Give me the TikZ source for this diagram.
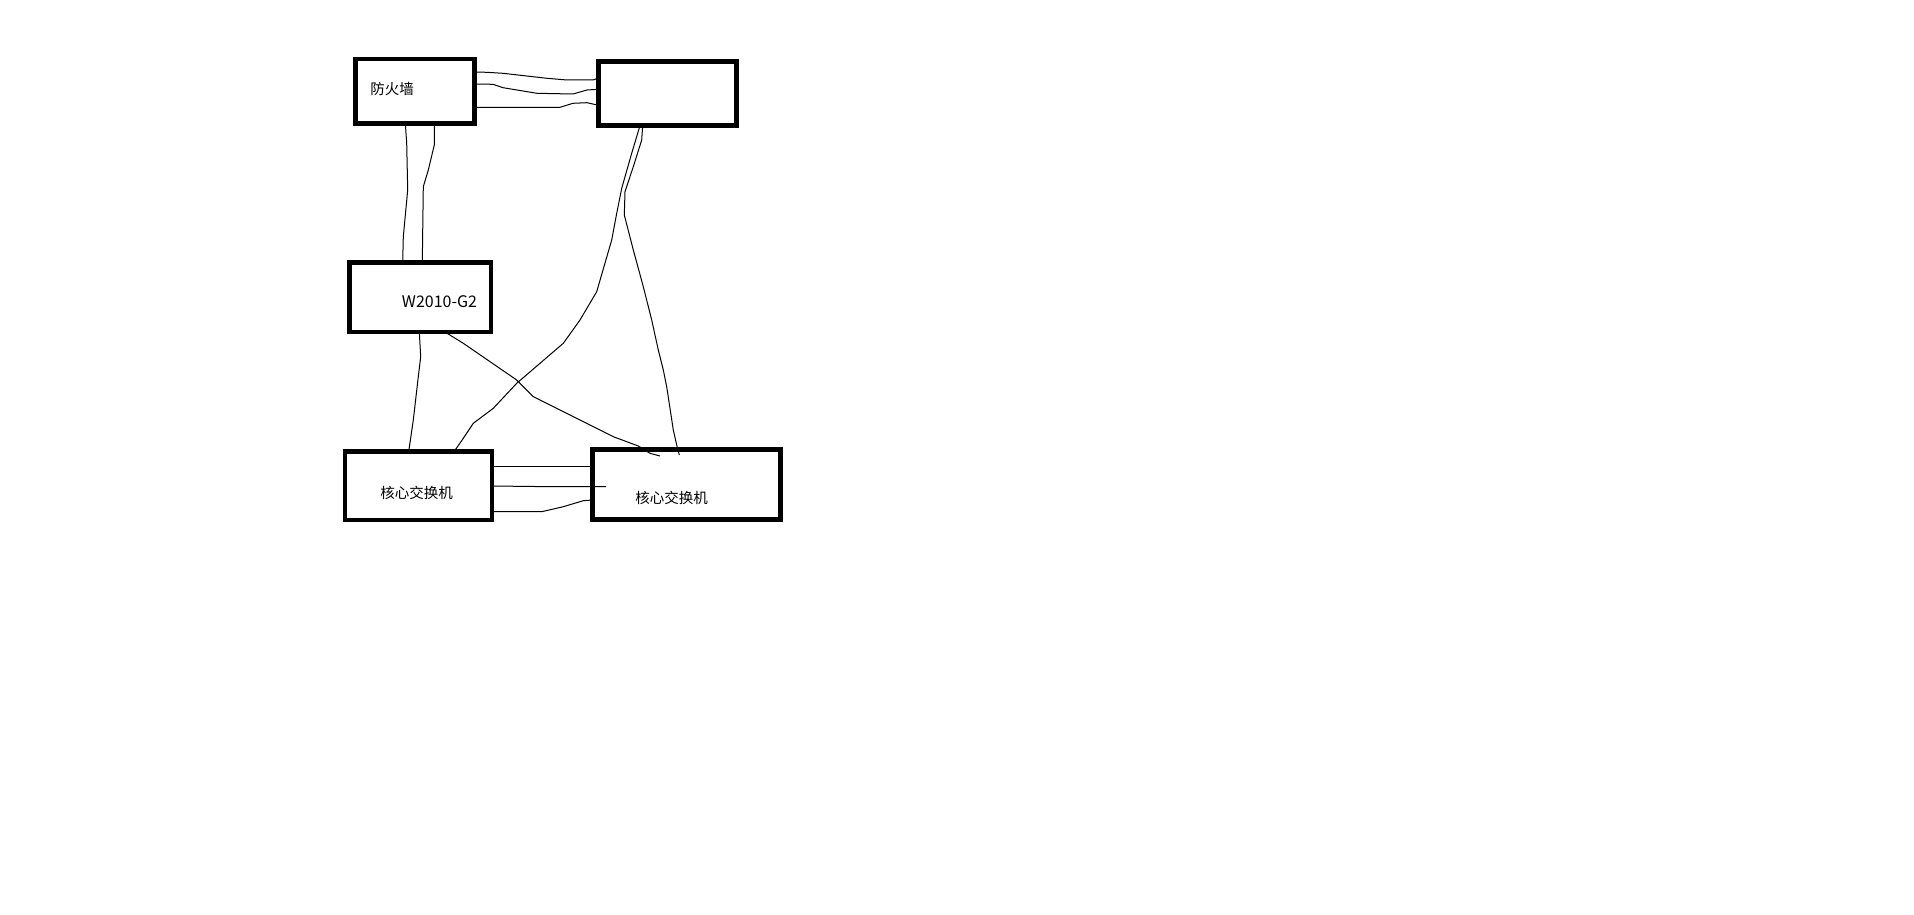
\documentclass[tikz,border=0pt]{standalone}
\usepackage{fontspec}
\newfontfamily\cjk{Noto Sans CJK SC}
\begin{document}
\begin{tikzpicture}[x=1pt,y=-1pt,
  box/.style={draw=black, line width=4.7pt, inner sep=0pt, outer sep=0pt, fill=none},
  wire/.style={draw=black, line width=1pt, line join=round},
  lbl/.style={inner sep=0pt, font=\cjk\fontsize{14.5}{16}\selectfont, text=black}]
\useasboundingbox[fill=white] (0,0) rectangle (1914,915);
% boxes
\node[box, minimum width=119pt, minimum height=64.5pt] (fw) at (415,91.25) {};
\node[box, minimum width=138pt, minimum height=64pt] (rt) at (667.5,93.5) {};
\node[box, minimum width=141.3pt, minimum height=69.7pt] (w2) at (420.3,297.2) {};
\node[box, minimum width=147pt, minimum height=68.3pt] (cl) at (418.5,485.8) {};
\node[box, minimum width=188pt, minimum height=69.6pt] (cr) at (686.3,484.5) {};
% labels
\node[lbl] (tfw) at (392,89) {防火墙};
\node[lbl, font=\cjk\fontsize{16}{18}\selectfont] (tw2) at (439.5,301.7) {W2010-G2};
\node[lbl] (tcl) at (416.7,492.7) {核心交换机};
\node[lbl] (tcr) at (671.7,497.7) {核心交换机};
% firewall -> top right
\draw[wire] (fw.east |- 0,72) -- (487,72.3) -- (503,73.3) -- (547,78.3) -- (567,80) -- (593,80) -- (rt.west |- 0,78);
\draw[wire] (fw.east |- 0,84) -- (493,84.3) -- (503,87.7) -- (537,93.3) -- (573,94) -- (587,90) -- (rt.west |- 0,89.3);
\draw[wire] (fw.east |- 0,107.3) -- (560,107.3) -- (573,103.3) -- (587,102.7) -- (rt.west |- 0,105.3);
% firewall -> W2010
\draw[wire] (fw.south -| 405.3,0) -- (406.7,143) -- (407.7,190) -- (403.3,236.7) -- (w2.north -| 402.7,0);
\draw[wire] (fw.south -| 434.3,0) -- (434.3,145) -- (428.3,170) -- (423.3,186.7) -- (w2.north -| 422.3,0);
% top right -> core right
\draw[wire] (rt.south -| 642.7,0) -- (641.7,140) -- (633.3,166.7) -- (625,191.7) -- (624.3,215) -- (633.3,250) -- (643.3,286.7) -- (651.7,320) -- (658.3,350) -- (663.3,370) -- (666.7,386.7) -- (673.3,430) -- (676.7,445) -- (679.3,455);
% top right -> core left
\draw[wire] (rt.south -| 640,0) -- (631.7,153.3) -- (621.7,188.3) -- (616.7,213.3) -- (611.7,240) -- (596.7,291.7) -- (580,320) -- (563.3,343.3) -- (516.7,383.3) -- (493.3,408.3) -- (473.3,423.3) -- (463.3,438.3) -- (cl.north -| 454,0);
% W2010 -> core left
\draw[wire] (w2.south -| 419.3,0) -- (420.7,356.7) -- (418.3,376.7) -- (413.3,420) -- (cl.north -| 408.7,0);
% W2010 -> core right
\draw[wire] (w2.south -| 445,0) -- (463.3,343.3) -- (516.7,380) -- (533.3,396.7) -- (576.7,418.3) -- (613.3,436.7) -- (638.3,446) -- (650,453.3) -- (660,456);
% core left -> core right
\draw[wire] (cl.east |- 0,466.7) -- (cr.west |- 0,466.7);
\draw[wire] (cl.east |- 0,486) -- (551.7,486.7) -- (606,486.7);
\draw[wire] (cl.east |- 0,511.7) -- (541.7,511.7) -- (563.3,506.7) -- (583.3,500.7) -- (cr.west |- 0,500);
\end{tikzpicture}
\end{document}
